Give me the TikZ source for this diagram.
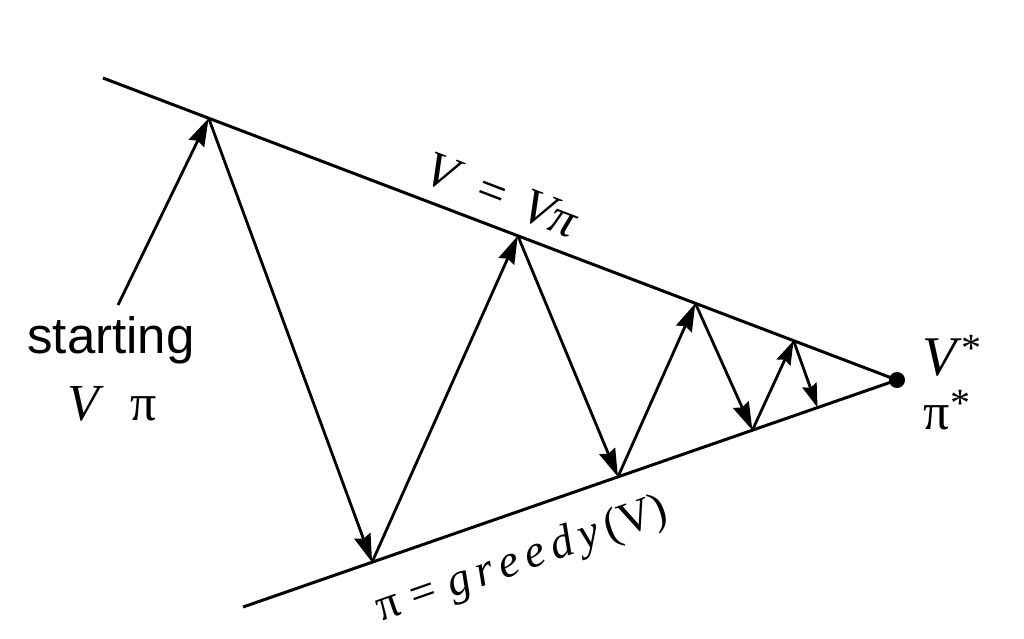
\documentclass[tikz,border=0pt]{standalone}
\usepackage{fontspec}
\setmainfont{Liberation Serif}
\newfontfamily\sansf{Liberation Sans}
\usetikzlibrary{arrows.meta,calc}
\newcommand{\gk}{\kern 7pt}
\begin{document}
\begin{tikzpicture}[x=1pt,y=-1pt,
  edge/.style={line width=3pt},
  move/.style={line width=2.8pt,-{Stealth[length=28pt,width=17pt,inset=3pt]}},
  small/.style={line width=2.8pt,-{Stealth[length=24pt,width=15pt,inset=3pt]}},
  lbl/.style={inner sep=0pt}]
\useasboundingbox[fill=white] (0,0) rectangle (1024,638);
\coordinate (U0) at (103,78);
\coordinate (L0) at (243,607);
\coordinate (A) at (897,380);
\draw[edge] (U0) -- (A);
\draw[edge] (L0) -- (A);
\fill (A) circle (8pt);
\coordinate (p1) at ($(U0)!(208,120)!(A)$);
\coordinate (p3) at ($(U0)!(517,238)!(A)$);
\coordinate (p5) at ($(U0)!(694,307)!(A)$);
\coordinate (p7) at ($(U0)!(792,345)!(A)$);
\coordinate (p2) at ($(L0)!(372,562)!(A)$);
\coordinate (p4) at ($(L0)!(618,477)!(A)$);
\coordinate (p6) at ($(L0)!(752,429)!(A)$);
\coordinate (p8) at ($(L0)!(817,406)!(A)$);
\coordinate (s) at (118,305);
\draw[move] (s) -- (p1);
\draw[move] (p1) -- (p2);
\draw[move] (p2) -- (p3);
\draw[move] (p3) -- (p4);
\draw[move] (p4) -- (p5);
\draw[move] (p5) -- (p6);
\draw[small] (p6) -- (p7);
\draw[small] (p7) -- (p8);
\node[lbl, font=\sansf\fontsize{51}{60}\selectfont] (st) at (111,340) {starting};
\node[lbl, font=\fontsize{52}{60}\selectfont] (vp) at (112,404) {\textit{V}\hspace{0.5em}π};
\node[lbl, font=\fontsize{50}{56}\selectfont, rotate=-21] (vv) at (502,195) {\textit{V}\hspace{0.4em}=\hspace{0.4em}\textit{Vπ}};
\node[lbl, font=\fontsize{46}{54}\selectfont, rotate=19.3] (pg) at (522,561) {π\kern13pt=\kern13pt\textit{g\gk r\gk e\gk e\gk d\gk y}\gk(V)};
\node[lbl, font=\fontsize{56}{60}\selectfont] (vs) at (952,356) {\textit{V}\raisebox{0.25em}{\fontsize{40}{44}\selectfont *}};
\node[lbl, font=\fontsize{52}{60}\selectfont] (ps) at (947,410) {π\raisebox{0.25em}{\fontsize{40}{44}\selectfont *}};
\end{tikzpicture}
\end{document}
